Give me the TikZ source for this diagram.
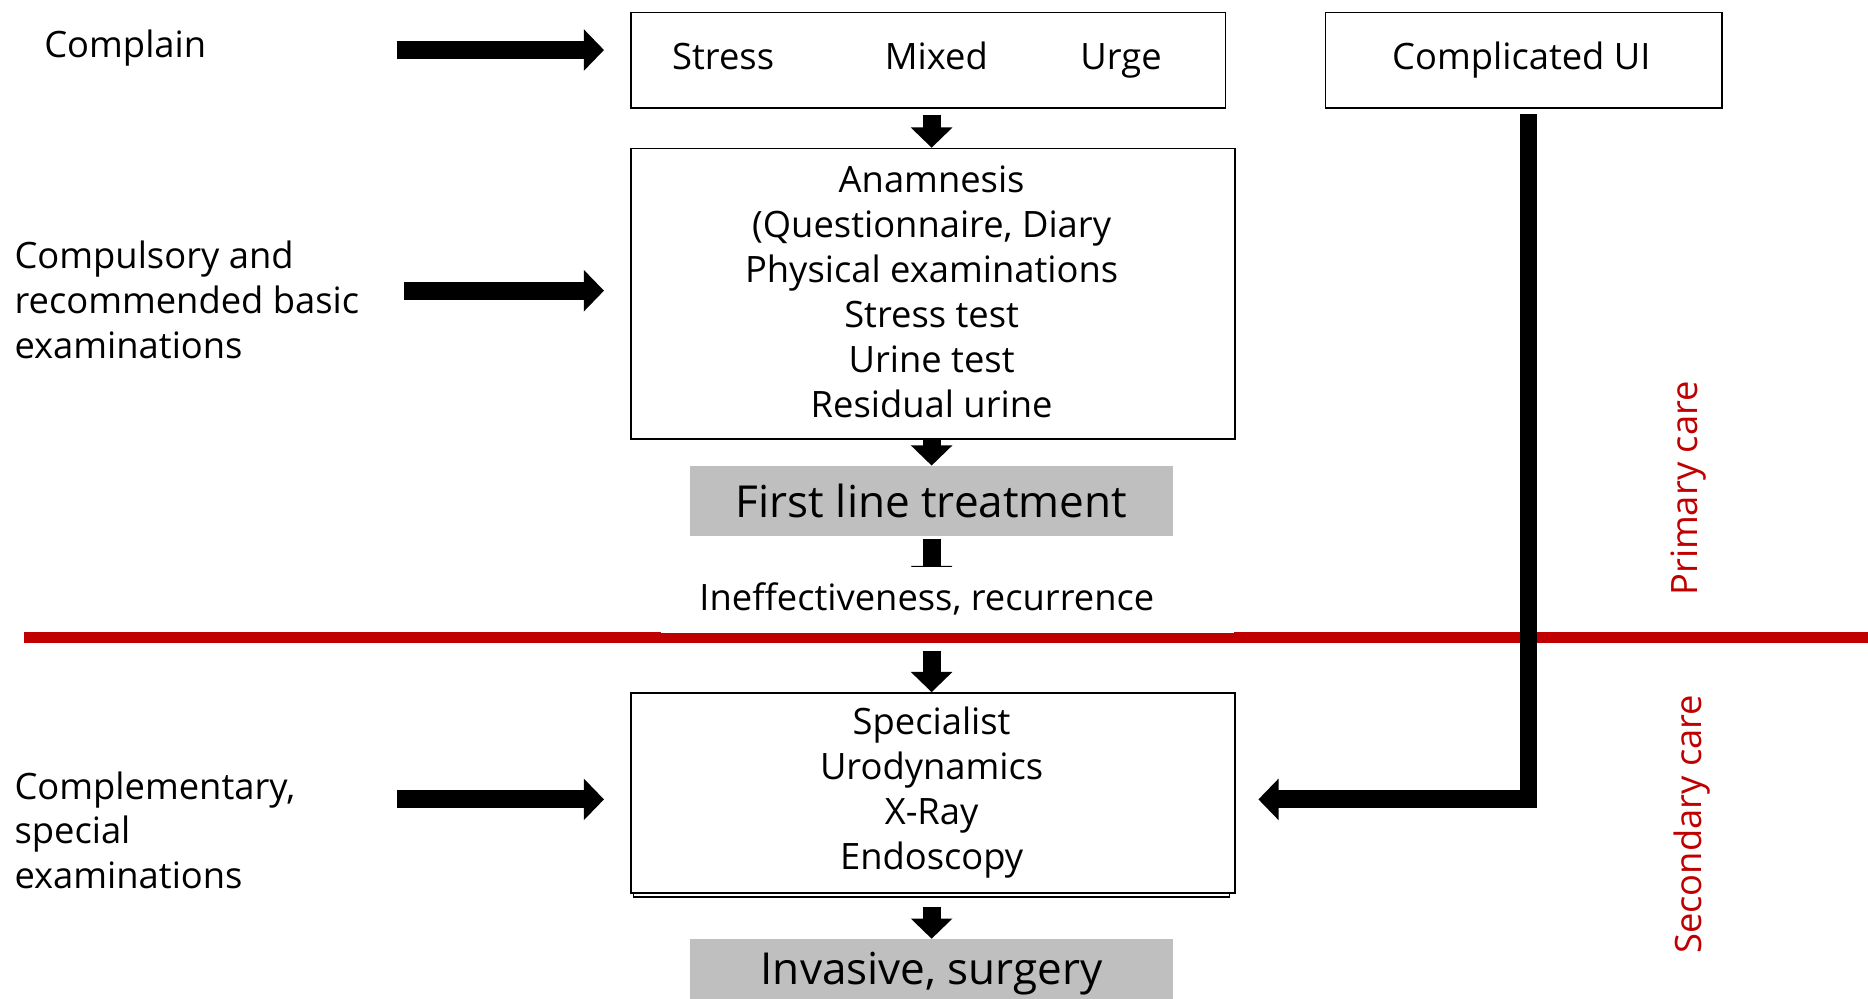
\documentclass[tikz,border=0pt]{standalone}
\usepackage{fontspec}
\setmainfont{Open Sans}
\usetikzlibrary{arrows.meta,backgrounds,calc}
\definecolor{carered}{RGB}{192,0,0}
\definecolor{boxgrey}{RGB}{191,191,191}
\begin{document}
\begin{tikzpicture}[x=1pt,y=-1pt,
  txt/.style={font=\fontsize{30.5}{37.7}\selectfont, inner sep=0pt},
  box/.style={draw, line width=1.3pt, fill=white, inner sep=0pt},
  greybox/.style={fill=boxgrey, inner sep=0pt, font=\fontsize{37}{42}\selectfont},
  bigarrow/.style={line width=15pt, line join=miter, -{Triangle[width=34pt,length=17pt]}},
  redline/.style={line width=9pt, carered},
  caretxt/.style={txt, text=carered, rotate=90},
]
\useasboundingbox (0,0) rectangle (1568,838);
\clip (0,0) rectangle (1568,838);

% red separating line
\draw[redline] (20,535) -- (1568,535);

% boxes
\node[box, anchor=north west, minimum width=499pt, minimum height=80pt] (types) at (529,10) {};
\node[txt, anchor=base] (stress) at (607,58) {Stress};
\node[txt, anchor=base] (mixed) at (786,58) {Mixed};
\node[txt, anchor=base] (urge) at (941,58) {Urge};

\node[box, anchor=north west, minimum width=333pt, minimum height=80pt] (cui) at (1112,10) {};
\node[txt, anchor=base] (cuit) at (1277,58) {Complicated UI};

\node[box, anchor=north west, minimum width=507pt, minimum height=244pt] (exam) at (529,124) {};
\node[txt, align=center] (examt) at (782,245) {Anamnesis\\(Questionnaire, Diary\\Physical examinations\\Stress test\\Urine test\\Residual urine};

\node[greybox, minimum width=406pt, minimum height=59pt] (first) at (782,420.5) {First line treatment};

\node[fill=white, inner sep=0pt, anchor=north west, minimum width=481pt, minimum height=55pt] (ineff) at (555,476) {};
\node[txt] (iner) at (778,503) {Ineffectiveness, recurrence};

% secondary box with double bottom
\draw[line width=1pt] (532,600) rectangle (1032,753);
\node[box, anchor=north west, minimum width=507pt, minimum height=168pt] (spec) at (529,581) {};
\node[txt, align=center] (spect) at (782,665) {Specialist\\Urodynamics\\X-Ray\\Endoscopy};

\node[greybox, anchor=north, minimum width=406pt, minimum height=60pt] (inv) at (782,788) {};
\node[font=\fontsize{37}{42}\selectfont, inner sep=0pt] (invt) at (782,817) {Invasive, surgery};

% left labels
\node[txt, anchor=base west] (complain) at (37,48) {Complain};
\node[txt, align=left, anchor=west] (compulsory) at (12,252) {Compulsory and\\recommended basic\\examinations};
\node[txt, align=left, anchor=west] (complementary) at (12,697) {Complementary,\\special\\examinations};

% care labels
\node[caretxt] (primary) at (1417,410) {Primary care};
\node[caretxt] (secondary) at (1420,692) {Secondary care};

% horizontal arrows
\coordinate (a1) at (333,42);
\coordinate (a2) at (339,244);
\coordinate (a3) at (333,671);
\draw[bigarrow] (a1) -- ($(types.west |- a1)+(-22,0)$);
\draw[bigarrow] (a2) -- ($(exam.west |- a2)+(-22,0)$);
\draw[bigarrow] (a3) -- ($(spec.west |- a3)+(-22,0)$);

% vertical arrows
\draw[bigarrow] ($(types.south -| examt)+(0,5)$) -- (exam.north -| examt);
\draw[bigarrow] (exam.south -| examt) -- (first.north);
\begin{scope}[on background layer]
\draw[bigarrow] ($(first.south)+(0,2)$) -- ($(ineff.north -| first)+(0,16)$);
\end{scope}
\draw[bigarrow] ($(ineff.south -| first)+(0,15)$) -- (spec.north -| first);
\draw[bigarrow] ($(spec.south -| first)+(0,11)$) -- (inv.north);

% complicated UI connector
\coordinate (c0) at (1283,96);
\coordinate (c1) at (1283,671);
\draw[bigarrow] (c0) -- (c1) -- ($(spec.east |- c1)+(19,0)$);
\end{tikzpicture}
\end{document}
